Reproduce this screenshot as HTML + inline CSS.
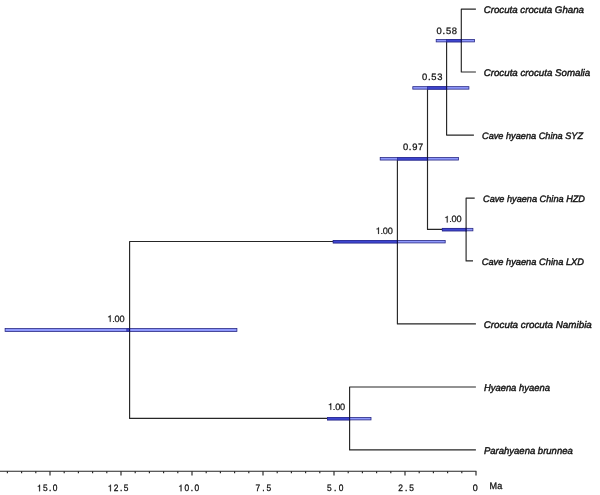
<!DOCTYPE html>
<html>
<head>
<meta charset="utf-8">
<title>Hyaena phylogeny</title>
<style>
html,body{margin:0;padding:0;background:#fff;}
body{width:600px;height:495px;overflow:hidden;font-family:"Liberation Sans",sans-serif;}
svg{display:block;will-change:transform;opacity:.999;}
.br{fill:none;stroke:#262626;stroke-width:1.15;stroke-linecap:butt;stroke-linejoin:round;}
.bar{fill:#8e98fc;stroke:#282884;stroke-width:.8;}
.ov{fill:#3e46d0;stroke:#282890;stroke-width:.7;}
.vx{fill:none;stroke:#10104a;stroke-width:1.15;}
text{font-family:"Liberation Sans",sans-serif;text-rendering:geometricPrecision;fill:#141414;stroke:#141414;stroke-width:0.42;}
.tip{font-style:italic;}
</style>
</head>
<body>
<svg width="600" height="495" viewBox="0 0 600 495">
<rect width="600" height="495" fill="#fff" stroke="none"/>
<!-- branches -->
<g class="br">
  <path d="M126.8 329.9H129.6"/>
  <path d="M397.4 241.5H129.6V418.4H349.6"/>
  <path d="M475.9 387.0H349.6V449.9H475.9"/>
  <path d="M427.5 158.8H397.4V323.9H475.9"/>
  <path d="M446.6 87.9H427.5V229.4H466.1"/>
  <path d="M474.7 198.1H466.1V260.9H473.0"/>
  <path d="M461.3 40.6H446.6V135.1H473.9"/>
  <path d="M475.9 9.1H461.3V72.0H475.9"/>
</g>
<!-- 95% HPD node bars -->
<g class="bar">
  <rect x="436.2" y="39.40" width="38.3" height="2.50"/>
  <rect x="412.8" y="86.65" width="56.1" height="2.50"/>
  <rect x="380.2" y="157.55" width="78.3" height="2.50"/>
  <rect x="442.3" y="228.35" width="30.6" height="2.50"/>
  <rect x="333.2" y="240.42" width="112.0" height="2.50"/>
  <rect x="5.1" y="328.55" width="231.8" height="2.90"/>
  <rect x="327.4" y="417.40" width="43.6" height="2.50"/>
</g>
<g class="ov">
  <rect x="446.6" y="39.4" width="14.7" height="2.5"/>
  <rect x="427.5" y="86.7" width="19.1" height="2.5"/>
  <rect x="397.4" y="157.6" width="30.1" height="2.5"/>
  <rect x="442.3" y="228.4" width="23.8" height="2.5"/>
  <rect x="333.2" y="240.5" width="64.2" height="2.5"/>
  <rect x="126.8" y="328.8" width="2.8" height="2.5"/>
  <rect x="327.4" y="417.5" width="22.2" height="2.5"/>
</g>
<g class="vx">
  <path d="M461.3 38.9V42.4"/>
  <path d="M446.6 86.1V89.7"/>
  <path d="M427.5 157.0V160.6"/>
  <path d="M466.1 227.8V231.4"/>
  <path d="M397.4 239.9V243.5"/>
  <path d="M129.6 328.2V331.8"/>
  <path d="M349.6 416.9V420.5"/>
</g>
<!-- posterior probabilities -->
<g>
  <text x="436.60 442.56 445.91 451.87" y="33.50" font-size="9.4" style="stroke-width:0.28">0.58</text>
  <text x="422.00 427.96 431.31 437.27" y="79.70" font-size="9.4" style="stroke-width:0.28">0.53</text>
  <text x="402.90 408.83 412.14 418.07" y="150.10" font-size="9.4" style="stroke-width:0.28">0.97</text>
  <path d="M359 0H273V505H101V566C190 570 270 600 295 703H359Z" transform="translate(444.30 222.40) scale(0.00920 -0.00920)" fill="#141414" stroke="#141414" stroke-width="23.9"/>
  <text x="444.30 449.21 451.57 456.48" y="222.40" font-size="9.2" style="stroke-width:0.22"><tspan style="fill:none;stroke:none">1</tspan>.00</text>
  <path d="M359 0H273V505H101V566C190 570 270 600 295 703H359Z" transform="translate(375.60 233.90) scale(0.00920 -0.00920)" fill="#141414" stroke="#141414" stroke-width="23.9"/>
  <text x="375.60 380.51 382.87 387.78" y="233.90" font-size="9.2" style="stroke-width:0.22"><tspan style="fill:none;stroke:none">1</tspan>.00</text>
  <path d="M359 0H273V505H101V566C190 570 270 600 295 703H359Z" transform="translate(107.30 321.80) scale(0.00920 -0.00920)" fill="#141414" stroke="#141414" stroke-width="23.9"/>
  <text x="107.30 112.21 114.57 119.48" y="321.80" font-size="9.2" style="stroke-width:0.22"><tspan style="fill:none;stroke:none">1</tspan>.00</text>
  <path d="M359 0H273V505H101V566C190 570 270 600 295 703H359Z" transform="translate(327.90 409.70) scale(0.00920 -0.00920)" fill="#141414" stroke="#141414" stroke-width="23.9"/>
  <text x="327.90 332.81 335.17 340.08" y="409.70" font-size="9.2" style="stroke-width:0.22"><tspan style="fill:none;stroke:none">1</tspan>.00</text>
</g>
<!-- tip labels -->
<g class="tip">
  <text x="483.70" y="13.00" font-size="9.7" textLength="100.30" lengthAdjust="spacingAndGlyphs">Crocuta crocuta Ghana</text>
  <text x="483.70" y="75.90" font-size="9.7" textLength="106.50" lengthAdjust="spacingAndGlyphs">Crocuta crocuta Somalia</text>
  <text x="482.00" y="138.90" font-size="9.35" textLength="101.10" lengthAdjust="spacingAndGlyphs">Cave hyaena China SYZ</text>
  <text x="483.00" y="201.90" font-size="9.35" textLength="102.00" lengthAdjust="spacingAndGlyphs">Cave hyaena China HZD</text>
  <text x="481.70" y="264.90" font-size="9.35" textLength="102.30" lengthAdjust="spacingAndGlyphs">Cave hyaena China LXD</text>
  <text x="483.70" y="327.90" font-size="9.7" textLength="108.10" lengthAdjust="spacingAndGlyphs">Crocuta crocuta Namibia</text>
  <text x="483.90" y="390.80" font-size="9.7" textLength="66.00" lengthAdjust="spacingAndGlyphs">Hyaena hyaena</text>
  <text x="483.90" y="453.80" font-size="9.7" textLength="88.90" lengthAdjust="spacingAndGlyphs">Parahyaena brunnea</text>
</g>
<!-- time axis -->
<g class="br">
  <path d="M0 471.2H476.4"/>
  <path d="M476.0 471.2V475.5M461.8 471.2V473.3M447.6 471.2V473.3M433.4 471.2V473.3M419.2 471.2V473.3M405.0 471.2V475.5M390.8 471.2V473.3M376.6 471.2V473.3M362.4 471.2V473.3M348.2 471.2V473.3M334.0 471.2V475.5M319.8 471.2V473.3M305.6 471.2V473.3M291.4 471.2V473.3M277.2 471.2V473.3M263.0 471.2V475.5M248.8 471.2V473.3M234.6 471.2V473.3M220.4 471.2V473.3M206.2 471.2V473.3M192.0 471.2V475.5M177.8 471.2V473.3M163.6 471.2V473.3M149.4 471.2V473.3M135.2 471.2V473.3M121.0 471.2V475.5M106.8 471.2V473.3M92.6 471.2V473.3M78.4 471.2V473.3M64.2 471.2V473.3M50.0 471.2V475.5M35.8 471.2V473.3M21.6 471.2V473.3M7.4 471.2V473.3"/>
</g>
<g>
  <path d="M359 0H273V505H101V566C190 570 270 600 295 703H359Z" transform="translate(37.00 491.20) scale(0.00837 -0.00930)" fill="#141414" stroke="#141414" stroke-width="32.3"/>
  <text transform="translate(37.00 491.20) scale(0.9 1)" x="0.00 6.66 13.31 17.38" y="0" font-size="9.3" style="stroke-width:0.3"><tspan style="fill:none;stroke:none">1</tspan>5.0</text>
  <path d="M359 0H273V505H101V566C190 570 270 600 295 703H359Z" transform="translate(107.80 491.20) scale(0.00837 -0.00930)" fill="#141414" stroke="#141414" stroke-width="32.3"/>
  <text transform="translate(107.80 491.20) scale(0.9 1)" x="0.00 6.73 13.46 17.61" y="0" font-size="9.3" style="stroke-width:0.3"><tspan style="fill:none;stroke:none">1</tspan>2.5</text>
  <path d="M359 0H273V505H101V566C190 570 270 600 295 703H359Z" transform="translate(178.40 491.20) scale(0.00837 -0.00930)" fill="#141414" stroke="#141414" stroke-width="32.3"/>
  <text transform="translate(178.40 491.20) scale(0.9 1)" x="0.00 6.84 13.68 17.94" y="0" font-size="9.3" style="stroke-width:0.3"><tspan style="fill:none;stroke:none">1</tspan>0.0</text>
  <text transform="translate(255.60 491.20) scale(0.9 1)" x="0.00 7.37 12.16" y="0" font-size="9.3" style="stroke-width:0.3">7.5</text>
  <text transform="translate(327.00 491.20) scale(0.9 1)" x="0.00 7.76 12.94" y="0" font-size="9.3" style="stroke-width:0.3">5.0</text>
  <text transform="translate(398.20 491.20) scale(0.9 1)" x="0.00 7.43 12.27" y="0" font-size="9.3" style="stroke-width:0.3">2.5</text>
  <text transform="translate(472.70 491.20) scale(0.96 1)" x="0.00" y="0" font-size="9.3" style="stroke-width:0.3">0</text>
  <text x="489.6" y="488.6" font-size="9.6" textLength="12.6" lengthAdjust="spacingAndGlyphs" style="stroke-width:.3">Ma</text>
</g>
</svg>
</body>
</html>
